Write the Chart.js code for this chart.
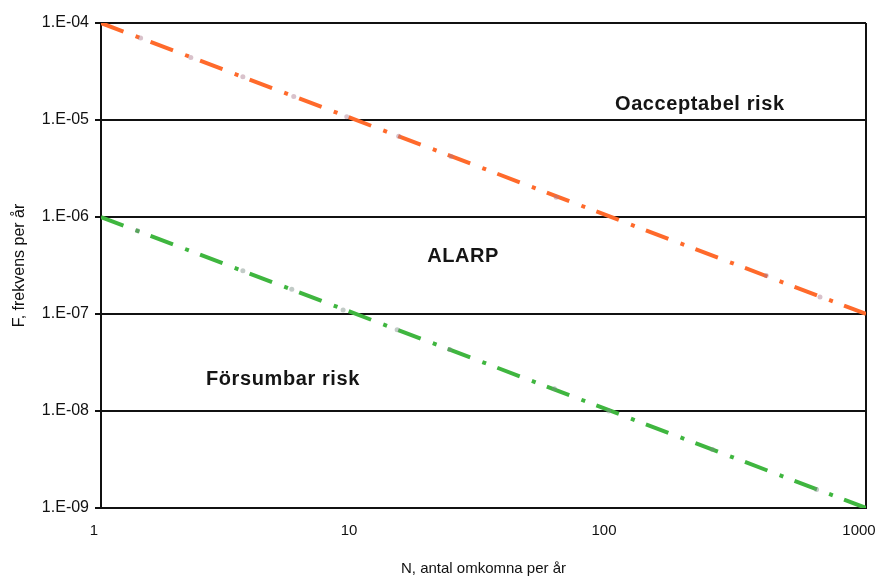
<!DOCTYPE html>
<html>
<head>
<meta charset="utf-8">
<script src="https://cdn.jsdelivr.net/npm/chart.js@4/dist/chart.umd.min.js"></script>
<style>
  html, body { margin: 0; padding: 0; background: #ffffff; }
  #wrap { width: 881px; height: 579px; position: relative; }
</style>
</head>
<body>
<div id="wrap"><canvas id="c"></canvas></div>
<script>
// ---- data ----
const xTickValues = [1, 10, 100, 1000];
const yTickValues = [1e-9, 1e-8, 1e-7, 1e-6, 1e-5, 1e-4];
const yTickLabels = ['1.E-09', '1.E-08', '1.E-07', '1.E-06', '1.E-05', '1.E-04'];

const upperLimitN = [1, 1000];
const upperLimitF = [1e-4, 1e-7];
const lowerLimitN = [1, 1000];
const lowerLimitF = [1e-6, 1e-9];

// faint markers visible along the lines
const upperMarkN = [1.43, 2.25, 3.6, 5.7, 9.2, 14.7, 23.6, 61, 406, 660];
const upperMarkF = [7e-5, 4.4e-5, 2.8e-5, 1.75e-5, 1.08e-5, 6.8e-6, 4.2e-6, 1.6e-6, 2.5e-7, 1.5e-7];
const lowerMarkN = [1.39, 3.6, 5.6, 8.9, 14.5, 23.3, 60, 98, 250, 640];
const lowerMarkF = [7.2e-7, 2.8e-7, 1.8e-7, 1.1e-7, 6.9e-8, 4.3e-8, 1.7e-8, 1.0e-8, 4e-9, 1.55e-9];

const zoneLabels = ['Oacceptabel risk', 'ALARP', 'Försumbar risk'];
const zoneN = [223, 26.3, 5.17];
const zoneF = [1.43e-5, 3.9e-7, 2.09e-8];

const xTitle = 'N, antal omkomna per år';
const yTitle = 'F, frekvens per år';

const toPts = (xs, ys) => xs.map((x, i) => ({ x: x, y: ys[i] }));

const FONT = "'Liberation Sans', Arial, Helvetica, sans-serif";

const zonePlugin = {
  id: 'zoneText',
  afterDatasetsDraw(chart) {
    const { ctx, scales } = chart;
    ctx.save();
    ctx.font = 'bold 20px ' + FONT;
    ctx.fillStyle = '#151515';
    ctx.textAlign = 'center';
    ctx.textBaseline = 'middle';
    try { ctx.letterSpacing = '0.6px'; } catch (e) {}
    zoneLabels.forEach((t, i) => {
      ctx.fillText(t, scales.x.getPixelForValue(zoneN[i]), scales.y.getPixelForValue(zoneF[i]));
    });
    ctx.restore();
  }
};

const dashPattern = [24, 13, 4, 12];

new Chart(document.getElementById('c'), {
  type: 'scatter',
  data: {
    datasets: [
      {
        data: toPts(upperMarkN, upperMarkF),
        showLine: false,
        pointRadius: 2.5,
        pointBackgroundColor: 'rgba(170,120,140,0.45)',
        pointBorderWidth: 0
      },
      {
        data: toPts(lowerMarkN, lowerMarkF),
        showLine: false,
        pointRadius: 2.5,
        pointBackgroundColor: 'rgba(120,140,130,0.45)',
        pointBorderWidth: 0
      },
      {
        data: toPts(upperLimitN, upperLimitF),
        showLine: true,
        borderColor: '#ff6a2b',
        borderWidth: 4,
        borderDash: dashPattern,
        pointRadius: 0
      },
      {
        data: toPts(lowerLimitN, lowerLimitF),
        showLine: true,
        borderColor: '#3fb63f',
        borderWidth: 4,
        borderDash: dashPattern,
        pointRadius: 0
      }
    ]
  },
  options: {
    responsive: true,
    maintainAspectRatio: false,
    animation: false,
    layout: { padding: { top: 23, right: 15, bottom: 0, left: 0 } },
    plugins: {
      legend: { display: false },
      tooltip: { enabled: false }
    },
    scales: {
      x: {
        type: 'logarithmic',
        min: 1,
        max: 1000,
        afterBuildTicks: (s) => { s.ticks = xTickValues.map(v => ({ value: v })); },
        afterFit: (s) => { s.height = 71; s.paddingRight = 0; s.paddingLeft = 0; },
        ticks: {
          callback: (v) => String(v),
          font: { family: FONT, size: 15 },
          color: '#111',
          padding: 14,
          labelOffset: -7,
          maxRotation: 0,
          autoSkip: false
        },
        grid: {
          drawTicks: false,
          lineWidth: 2,
          color: (c) => (c.tick && c.tick.value === 1000) ? '#111' : 'rgba(0,0,0,0)'
        },
        border: { display: true, color: '#111', width: 2 },
        title: {
          display: true,
          text: xTitle,
          font: { family: FONT, size: 15 },
          color: '#111',
          padding: { top: 0, bottom: 1 }
        }
      },
      y: {
        type: 'logarithmic',
        min: 1e-9,
        max: 1e-4,
        afterBuildTicks: (s) => { s.ticks = yTickValues.map(v => ({ value: v })); },
        afterFit: (s) => { s.width = 101; },
        ticks: {
          callback: (v) => {
            const i = yTickValues.findIndex(t => Math.abs(Math.log10(t) - Math.log10(v)) < 1e-6);
            return i >= 0 ? yTickLabels[i] : '';
          },
          font: { family: FONT, size: 16 },
          color: '#111',
          padding: 6,
          autoSkip: false
        },
        grid: {
          color: '#111',
          lineWidth: 2,
          drawTicks: true,
          tickLength: 6
        },
        border: { display: true, color: '#111', width: 2 },
        title: {
          display: true,
          text: yTitle,
          font: { family: FONT, size: 16 },
          color: '#111',
          padding: { top: 10, bottom: 0 }
        }
      }
    }
  },
  plugins: [zonePlugin]
});
</script>
</body>
</html>
